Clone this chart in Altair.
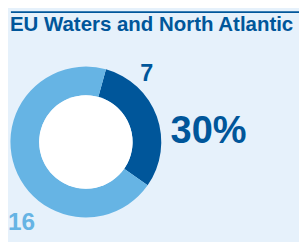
import math
import altair as alt
import pandas as pd

# ---- data ----
title = ["EU Waters and North Atlantic"]
categories = ["Highlighted", "Other"]
values = [7, 16]

# ---- styles ----
DARK = "#00569a"
LIGHT = "#66b4e4"
BG = "#e6f1fb"
FONT = "Liberation Sans"

total = sum(values)
pct = round(100 * values[0] / total)

df = pd.DataFrame({"category": categories, "value": values, "idx": list(range(len(values)))})
df["label"] = df["value"].astype(str)
pct_df = pd.DataFrame({"label": [f"{pct}%"]})
title_df = pd.DataFrame({"label": title})

start = 0.27
arc = alt.Chart(df).mark_arc(
    x=80, y=134.5, outerRadius=77.5, innerRadius=48, strokeWidth=0
).encode(
    theta=alt.Theta("value:Q", stack=True, scale=alt.Scale(range=[start, start + 2 * math.pi])),
    color=alt.Color("category:N", scale=alt.Scale(domain=categories, range=[DARK, LIGHT]), legend=None),
    order=alt.Order("idx:Q"),
)

# inner white disc
hole = alt.Chart(title_df).mark_arc(x=80, y=134.5, outerRadius=48, innerRadius=0, color="white").encode(
    theta=alt.value(2 * math.pi)
)

rule = alt.Chart(title_df).mark_rule(color=DARK, strokeWidth=2).encode(
    x=alt.value(3), x2=alt.value(299), y=alt.value(1)
)

title_txt = alt.Chart(title_df).mark_text(
    align="left", baseline="alphabetic", font=FONT, fontSize=21, fontWeight="bold", color=DARK
).encode(x=alt.value(2), y=alt.value(20), text="label:N")

lab7 = alt.Chart(df).transform_filter(alt.datum.idx == 0).mark_text(
    align="center", baseline="alphabetic", font=FONT, fontSize=24, fontWeight="bold", color=DARK
).encode(x=alt.value(142.5), y=alt.value(71.5), text="label:N")

lab16 = alt.Chart(df).transform_filter(alt.datum.idx == 1).mark_text(
    align="center", baseline="alphabetic", font=FONT, fontSize=25, fontWeight="bold", color=LIGHT
).encode(x=alt.value(14), y=alt.value(225), text="label:N")

pct_txt = alt.Chart(pct_df).mark_text(
    align="left", baseline="alphabetic", font=FONT, fontSize=39, fontWeight="bold", color=DARK
).encode(x=alt.value(167), y=alt.value(136), text="label:N")

chart = alt.layer(arc, hole, rule, title_txt, lab7, lab16, pct_txt).properties(
    width=299, height=234, autosize=alt.AutoSizeParams(type="none"), padding=0, background=BG
).configure_view(stroke=None)

chart.save("out.html", embed_options={"renderer": "svg", "actions": False})
